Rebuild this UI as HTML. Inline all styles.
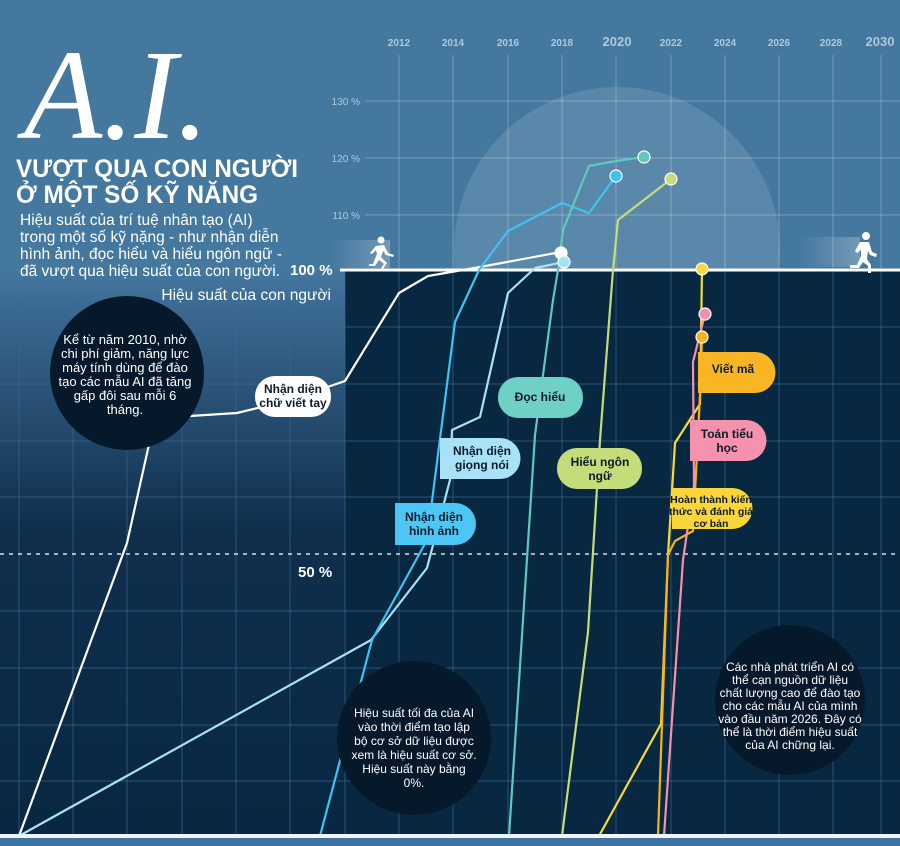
<!DOCTYPE html>
<html><head><meta charset="utf-8"><style>
html,body{margin:0;padding:0;background:#44789f}
svg{display:block}
text{font-family:"Liberation Sans","DejaVu Sans",sans-serif}
text.serif{font-family:"Liberation Serif","DejaVu Serif",serif}
</style></head><body>
<svg width="900" height="846" viewBox="0 0 900 846" xmlns="http://www.w3.org/2000/svg">
<defs>
<linearGradient id="lg" x1="0" y1="0" x2="0" y2="1">
<stop offset="0" stop-color="#44789f"/>
<stop offset="0.06" stop-color="#3c6b93"/>
<stop offset="0.45" stop-color="#0f2f4d"/>
<stop offset="1" stop-color="#082741"/>
</linearGradient>
<linearGradient id="rg" x1="0" y1="0" x2="1" y2="0">
<stop offset="0" stop-color="#fff" stop-opacity="0"/>
<stop offset="1" stop-color="#fff" stop-opacity="0.25"/>
</linearGradient>
<clipPath id="top"><rect x="0" y="0" width="900" height="270"/></clipPath>
</defs>
<rect x="0" y="0" width="900" height="846" fill="#44789f"/>
<rect x="0" y="270" width="345" height="566" fill="url(#lg)"/>
<rect x="345" y="270" width="555" height="566" fill="#082741"/>
<circle cx="617" cy="250" r="163" fill="#fff" fill-opacity="0.12" clip-path="url(#top)"/>
<g stroke="#fff" stroke-opacity="0.22" stroke-width="1.2">
<line x1="365" y1="101" x2="900" y2="101"/><line x1="365" y1="158" x2="900" y2="158"/><line x1="365" y1="215" x2="900" y2="215"/>
<line x1="399" y1="55" x2="399" y2="270"/><line x1="453" y1="55" x2="453" y2="270"/><line x1="508" y1="55" x2="508" y2="270"/><line x1="562" y1="55" x2="562" y2="270"/><line x1="616" y1="55" x2="616" y2="270"/><line x1="671" y1="55" x2="671" y2="270"/><line x1="725" y1="55" x2="725" y2="270"/><line x1="779" y1="55" x2="779" y2="270"/><line x1="833" y1="55" x2="833" y2="270"/><line x1="881" y1="55" x2="881" y2="270"/>
</g>
<g stroke="#3d6a92" stroke-opacity="0.55" stroke-width="1.2">
<line x1="19" y1="300" x2="19" y2="836"/><line x1="73" y1="300" x2="73" y2="836"/><line x1="127" y1="300" x2="127" y2="836"/><line x1="182" y1="300" x2="182" y2="836"/><line x1="236" y1="300" x2="236" y2="836"/><line x1="290" y1="300" x2="290" y2="836"/><line x1="345" y1="270" x2="345" y2="836"/><line x1="399" y1="270" x2="399" y2="836"/><line x1="453" y1="270" x2="453" y2="836"/><line x1="508" y1="270" x2="508" y2="836"/><line x1="562" y1="270" x2="562" y2="836"/><line x1="616" y1="270" x2="616" y2="836"/><line x1="671" y1="270" x2="671" y2="836"/><line x1="725" y1="270" x2="725" y2="836"/><line x1="779" y1="270" x2="779" y2="836"/><line x1="833" y1="270" x2="833" y2="836"/><line x1="881" y1="270" x2="881" y2="836"/>
<line x1="0" y1="327" x2="900" y2="327"/><line x1="0" y1="384" x2="900" y2="384"/><line x1="0" y1="441" x2="900" y2="441"/><line x1="0" y1="497" x2="900" y2="497"/><line x1="0" y1="611" x2="900" y2="611"/><line x1="0" y1="668" x2="900" y2="668"/><line x1="0" y1="725" x2="900" y2="725"/><line x1="0" y1="781" x2="900" y2="781"/>
</g>
<line x1="0" y1="554" x2="900" y2="554" stroke="#fff" stroke-opacity="0.85" stroke-width="1.5" stroke-dasharray="4,5"/>
<g fill="#b3c8da" font-size="10" font-weight="bold" text-anchor="middle">
<text x="399" y="46">2012</text><text x="453" y="46">2014</text><text x="508" y="46">2016</text><text x="562" y="46">2018</text><text x="671" y="46">2022</text><text x="725" y="46">2024</text><text x="779" y="46">2026</text><text x="831" y="46">2028</text>
<text x="617" y="46" font-size="13">2020</text><text x="880" y="46" font-size="13">2030</text>
</g>
<g fill="#b3c8da" font-size="10" text-anchor="end">
<text x="360" y="105">130 %</text><text x="360" y="162">120 %</text><text x="360" y="219">110 %</text>
</g>
<rect x="330" y="240" width="60" height="28" fill="url(#rg)"/>
<rect x="800" y="237" width="60" height="30" fill="url(#rg)"/>
<g fill="#fff">
<circle cx="381" cy="240" r="3.5"/><path d="M376 246 l8 -1 l4 8 l6 2 l-1 2 l-7 -2 l-3 -4 l-2 6 l6 6 l-4 6 l-2 -1 l3 -4 l-5 -4 l-4 6 l-6 0 l0 -2 l4 0 l4 -10 l-1 -4 l-4 4 l-2 -1 z"/>
<circle cx="866" cy="236" r="4"/><path d="M860 242 l9 0 l3 10 l5 2 l-1 3 l-6 -2 l-2 -4 l-1 8 l4 6 l0 8 l-3 0 l0 -7 l-5 -4 l-4 6 l-9 0 l0 -3 l7 0 l4 -9 l0 -6 l-4 3 l-2 -2 z"/>
</g>
<line x1="340" y1="270" x2="900" y2="270" stroke="#fff" stroke-width="3"/>
<g fill="none" stroke-width="2.2" stroke-linejoin="round">
<polyline stroke="#a8e2f7" points="19,836 371,640 427,568 450,480 452,430 480,417 508,293 535,268 564,262"/>
<polyline stroke="#fff" points="19,836 127,543 150,440 190,416 237,413 290,400 345,381 399,293 428,276 480,267 561,252"/>
<polyline stroke="#3fc3f3" points="320,836 372,640 427,540 455,322 479,270 508,231 562,203 589,213 616,176"/>
<polyline stroke="#5ec9bc" points="509,836 535,435 553,300 558,270 563,230 589,166 616,161 644,157"/>
<polyline stroke="#c5dc7a" points="562,836 588,632 600,440 613,270 618,220 671,179"/>
<polyline stroke="#f9d93b" points="599,836 661,724 668,555 675,443 700,404 702,269"/>
<polyline stroke="#f7b21e" points="658,836 668,555 675,541 693,531 700,395 702,337"/>
<polyline stroke="#f392ad" points="664,836 683,560 694,485 693,362 705,314"/>
</g>
<g stroke="#fff" stroke-width="1.2">
<circle cx="561" cy="253" r="6" fill="#fff"/><circle cx="564" cy="262" r="6" fill="#a8e2f7"/>
<circle cx="616" cy="176" r="6" fill="#3fc3f3"/><circle cx="644" cy="157" r="6" fill="#5ec9bc"/>
<circle cx="671" cy="179" r="6" fill="#c5dc7a"/><circle cx="702" cy="269" r="6" fill="#f9d93b"/>
<circle cx="705" cy="314" r="6" fill="#f392ad"/><circle cx="702" cy="337" r="6" fill="#f7b21e"/>
</g>
<g font-size="12" font-weight="bold" fill="#0b1b2a" text-anchor="middle">
<rect x="255" y="376" width="76" height="41" rx="20" fill="#fff"/>
<text x="293" y="393">Nhận diện</text><text x="293" y="407">chữ viết tay</text>
<rect x="498" y="377" width="85" height="41" rx="20" fill="#6fd0c6"/>
<text x="540" y="401">Đọc hiểu</text>
<path d="M440 438 h60 a20 20 0 0 1 0 41 h-60 z" fill="#a8e2f7"/>
<text x="482" y="455">Nhận diện</text><text x="482" y="469">giọng nói</text>
<path d="M395 503 h60 a20 20 0 0 1 0 42 h-60 z" fill="#4cc6f4"/>
<text x="434" y="521">Nhận diện</text><text x="434" y="535">hình ảnh</text>
<rect x="557" y="448" width="85" height="41" rx="20" fill="#c5dc7a"/>
<text x="600" y="466">Hiểu ngôn</text><text x="600" y="480">ngữ</text>
<path d="M698 352 h57 a20 20 0 0 1 0 41 h-57 z" fill="#f9b522"/>
<text x="733" y="373">Viết mã</text>
<path d="M690 420 h56 a20 20 0 0 1 0 41 h-56 z" fill="#f592ad"/>
<text x="727" y="438">Toán tiểu</text><text x="727" y="452">học</text>
<path d="M672 488 h60 a20 20 0 0 1 0 41 h-60 z" fill="#fbd63a"/>
<g font-size="10.5"><text x="711" y="503">Hoàn thành kiến</text><text x="711" y="515">thức và đánh giá</text><text x="711" y="527">cơ bản</text></g>
</g>
<g fill="#06192a">
<circle cx="127" cy="373" r="77"/><circle cx="414" cy="738" r="77"/><circle cx="790" cy="700" r="75"/>
</g>
<g fill="#fff" font-size="13" text-anchor="middle">
<text x="125" y="344">Kể từ năm 2010, nhờ</text><text x="125" y="358">chi phí giảm, năng lực</text><text x="125" y="372">máy tính dùng để đào</text><text x="125" y="386">tạo các mẫu AI đã tăng</text><text x="125" y="400">gấp đôi sau mỗi 6</text><text x="125" y="414">tháng.</text>
</g>
<g fill="#fff" font-size="12" text-anchor="middle">
<text x="414" y="717">Hiệu suất tối đa của AI</text><text x="414" y="731">vào thời điểm tạo lập</text><text x="414" y="745">bộ cơ sở dữ liệu được</text><text x="414" y="759">xem là hiệu suất cơ sở.</text><text x="414" y="773">Hiệu suất này bằng</text><text x="414" y="787">0%.</text>
<text x="790" y="671">Các nhà phát triển AI có</text><text x="790" y="684">thể cạn nguồn dữ liệu</text><text x="790" y="697">chất lượng cao để đào tạo</text><text x="790" y="710">cho các mẫu AI của mình</text><text x="790" y="723">vào đầu năm 2026. Đây có</text><text x="790" y="736">thể là thời điểm hiệu suất</text><text x="790" y="749">của AI chững lại.</text>
</g>
<g fill="#fff" font-weight="bold" font-size="15">
<text x="290" y="275">100 %</text><text x="298" y="577">50 %</text>
</g>
<text class="serif" x="24" y="138" fill="#fff" font-style="italic" font-size="128">A.I.</text>
<g fill="#fff" font-weight="bold" font-size="25">
<text x="16" y="177" textLength="282" lengthAdjust="spacingAndGlyphs">VƯỢT QUA CON NGƯỜI</text>
<text x="16" y="203" textLength="242" lengthAdjust="spacingAndGlyphs">Ở MỘT SỐ KỸ NĂNG</text>
</g>
<g fill="#fff" font-size="15.5">
<text x="20" y="225">Hiệu suất của trí tuệ nhân tạo (AI)</text>
<text x="20" y="242">trong một số kỹ nặng - như nhận diễn</text>
<text x="20" y="259">hình ảnh, đọc hiểu và hiểu ngôn ngữ -</text>
<text x="20" y="276">đã vượt qua hiệu suất của con người.</text>
<text x="331" y="300" text-anchor="end">Hiệu suất của con người</text>
</g>
<rect x="0" y="834" width="900" height="4" fill="#eef6fb"/>
<rect x="0" y="838" width="900" height="8" fill="#3f73a0"/>
</svg>
</body></html>
